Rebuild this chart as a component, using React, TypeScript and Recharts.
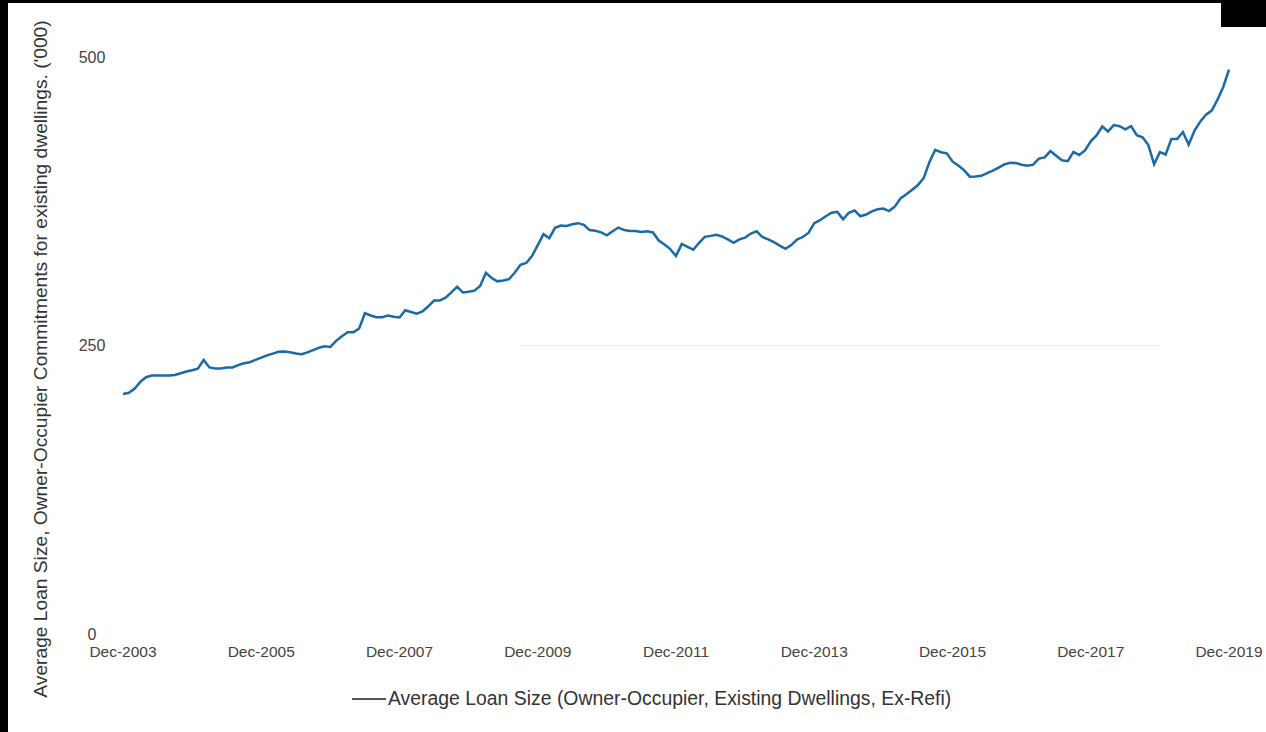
import React from 'react';
import { LineChart, Line, XAxis, YAxis, Legend, ReferenceLine } from 'recharts';

// monthly series, Dec-2003 .. Dec-2019 ('000)
const startYear = 2003;
const monthNames = ['Dec', 'Jan', 'Feb', 'Mar', 'Apr', 'May', 'Jun', 'Jul', 'Aug', 'Sep', 'Oct', 'Nov'];

const loanSize = [
  208, 209, 212.5, 218.5, 222.5, 224, 224, 224, 224, 224.5,
  226, 227.5, 228.5, 230, 237.5, 231, 230, 230, 231, 231,
  233, 234.6, 235.5, 237.5, 239.5, 241.5, 243, 244.6, 244.8, 244.2,
  243, 242.5, 244, 246, 248, 249.4, 248.8, 254, 258, 261.5,
  261.5, 264.8, 278, 276, 274.5, 274.5, 276, 275, 274.3, 280.5,
  279, 277.5, 279.5, 284, 289, 289, 291.5, 296, 301, 296,
  296.5, 297.5, 301.5, 313, 308.5, 305.6, 306.4, 307.5, 313, 320,
  321.5, 327.5, 337, 346.5, 343, 352, 354, 353.5, 355, 356,
  354.5, 350, 349.4, 348, 345.5, 349, 352.2, 350, 349.2, 349.2,
  348.3, 349, 348, 341, 337.5, 333.5, 327.5, 338, 335.5, 333,
  339, 344.2, 345, 346, 344.5, 342, 339, 342, 343.5, 347,
  349, 344, 342, 339.5, 336.5, 333.8, 337, 341.8, 344, 347.5,
  356, 358.6, 362, 365, 365.8, 359.3, 365, 367, 362, 363.5,
  366.3, 368, 368.7, 366.5, 370.5, 377.6, 381, 385, 389, 395,
  409, 419.5, 417.5, 416.5, 409.5, 406, 402, 396.3, 396.4, 397,
  399.3, 401.6, 404.2, 407, 408.3, 408.2, 406.7, 405.8, 406.7, 412,
  413, 418.5, 414.5, 410.5, 409.7, 417.8, 415, 419, 427, 432,
  439.8, 435.5, 441, 440, 437.3, 440, 432.3, 430.5, 423.7, 407.1,
  417.5, 415.5, 429, 429, 435, 424, 436, 444, 450, 453.6,
  463, 474, 489,
];

const xTicks = [
  'Dec-2003', 'Dec-2005', 'Dec-2007', 'Dec-2009', 'Dec-2011',
  'Dec-2013', 'Dec-2015', 'Dec-2017', 'Dec-2019',
];
const yTicks = [0, 250, 500];

const seriesName = 'Average Loan Size (Owner-Occupier, Existing Dwellings, Ex-Refi)';
const yTitle = "Average Loan Size, Owner-Occupier Commitments for existing dwellings. ('000)";

const data = loanSize.map((v, i) => {
  const year = startYear + Math.floor((i + 11) / 12);
  return { label: `${monthNames[i % 12]}-${year}`, value: v };
});

const FONT = '"Liberation Sans", Arial, sans-serif';

function XTick({ x, y, payload }: any) {
  return (
    <text x={x} y={y + 18} dy="0.35em" textAnchor="middle" fontSize={15.5} fill="#444" fontFamily={FONT}>
      {payload.value}
    </text>
  );
}

function YTick({ y, payload }: any) {
  return (
    <text x={92} y={y} dy="0.35em" textAnchor="middle" fontSize={16} fill="#444" fontFamily={FONT}>
      {payload.value}
    </text>
  );
}

function LegendContent() {
  return (
    <div style={{ display: 'flex', alignItems: 'center', fontFamily: FONT, fontSize: 19.4, color: '#333' }}>
      <span style={{ display: 'inline-block', width: 34, height: 2, background: '#555', marginRight: 2 }} />
      <span>{seriesName}</span>
    </div>
  );
}

export default function App() {
  return (
    <div style={{ position: 'fixed', left: 0, top: 0, width: 1266, height: 732, background: '#fff', overflow: 'hidden' }}>
      <LineChart width={1266} height={732} data={data} margin={{ top: 57, right: 37, bottom: 68, left: 63 }}>
        <XAxis
          dataKey="label"
          ticks={xTicks}
          tick={<XTick />}
          axisLine={false}
          tickLine={false}
          tickSize={0}
          tickMargin={0}
          height={30}
        />
        <YAxis
          domain={[0, 500]}
          ticks={yTicks}
          tick={<YTick />}
          axisLine={false}
          tickLine={false}
          width={60}
          label={{
            content: () => (
              <text
                x={40}
                y={359}
                dy="0.35em"
                transform="rotate(-90 40 359)"
                textAnchor="middle"
                fontSize={19.2}
                fill="#333"
                fontFamily={FONT}
              >
                {yTitle}
              </text>
            ),
          }}
        />
        <ReferenceLine
          segment={[{ x: data[69].label, y: 250 }, { x: data[180].label, y: 250 }]}
          stroke="#ececec"
          strokeWidth={1}
        />
        <Line
          type="linear"
          dataKey="value"
          name={seriesName}
          stroke="#1a6aa8"
          strokeWidth={2.5}
          dot={false}
          isAnimationActive={false}
        />
        <Legend
          layout="horizontal"
          verticalAlign="middle"
          align="center"
          content={<LegendContent />}
          wrapperStyle={{ position: 'absolute', left: 352, top: 687, width: 760, height: 24 }}
        />
      </LineChart>
      <div style={{ position: 'absolute', left: 0, top: 0, width: 8, height: 732, background: '#000' }} />
      <div style={{ position: 'absolute', left: 0, top: 0, width: 1266, height: 3, background: '#000' }} />
      <div style={{ position: 'absolute', left: 1221, top: 0, width: 45, height: 27, background: '#000' }} />
    </div>
  );
}
